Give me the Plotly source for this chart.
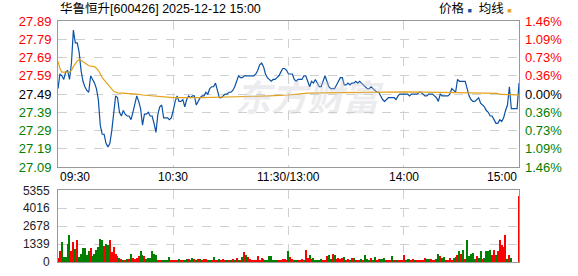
import plotly.graph_objects as go

# ---------------- data ----------------
stock_title = "华鲁恒升[600426] 2025-12-12 15:00"
pre_close = 27.49

# minute prices, 09:30 .. 11:30 (121 points)
price_am = [
    27.52, 27.60, 27.59, 27.57, 27.61, 27.62, 27.57, 27.66, 27.84, 27.77,
    27.77, 27.72, 27.62, 27.56, 27.53, 27.51, 27.50, 27.59, 27.57, 27.55,
    27.52, 27.46, 27.32, 27.27, 27.27, 27.22, 27.20, 27.22, 27.29, 27.38,
    27.48, 27.47, 27.39, 27.37, 27.40, 27.38, 27.37, 27.37, 27.35, 27.39,
    27.43, 27.48, 27.45, 27.41, 27.32, 27.38, 27.38, 27.39, 27.37, 27.37,
    27.33, 27.28, 27.38, 27.42, 27.43, 27.36, 27.36, 27.36, 27.35, 27.36,
    27.40, 27.45, 27.48, 27.45, 27.45, 27.46, 27.42, 27.46, 27.48, 27.47,
    27.48, 27.48, 27.43, 27.45, 27.47, 27.48, 27.48, 27.50, 27.49, 27.52,
    27.53, 27.53, 27.55, 27.51, 27.47, 27.47, 27.48, 27.49, 27.49, 27.50,
    27.50, 27.51, 27.53, 27.56, 27.59, 27.58, 27.58, 27.59, 27.59, 27.59,
    27.59, 27.59, 27.59, 27.60, 27.62, 27.65, 27.66, 27.64, 27.60, 27.58,
    27.57, 27.56, 27.57, 27.57, 27.58, 27.59, 27.61, 27.63, 27.63, 27.62,
    27.60,
]
# minute prices, 13:01 .. 15:00 (120 points)
price_pm = [
    27.60, 27.60, 27.57, 27.56, 27.57, 27.57, 27.57, 27.59, 27.59, 27.56,
    27.53, 27.56, 27.55, 27.57, 27.55, 27.53, 27.53, 27.56, 27.59, 27.56,
    27.53, 27.52, 27.52, 27.52, 27.54, 27.56, 27.58, 27.58, 27.54, 27.54,
    27.55, 27.54, 27.55, 27.55, 27.56, 27.55, 27.56, 27.55, 27.54, 27.53,
    27.52, 27.52, 27.53, 27.52, 27.51, 27.50, 27.50, 27.48, 27.46, 27.45,
    27.46, 27.47, 27.47, 27.47, 27.47, 27.46, 27.48, 27.49, 27.49, 27.49,
    27.49, 27.49, 27.48, 27.49, 27.49, 27.49, 27.49, 27.50, 27.50, 27.49,
    27.48, 27.48, 27.49, 27.49, 27.49, 27.48, 27.47, 27.45, 27.49, 27.48,
    27.48, 27.48, 27.48, 27.49, 27.52, 27.51, 27.50, 27.57, 27.56, 27.56,
    27.56, 27.56, 27.52, 27.48, 27.46, 27.45, 27.45, 27.46, 27.47, 27.44,
    27.43, 27.42, 27.40, 27.39, 27.37, 27.37, 27.35, 27.33, 27.33, 27.35,
    27.34, 27.36, 27.40, 27.43, 27.53, 27.41, 27.41, 27.41, 27.41, 27.55,
]

# average price line (minute index, value)
avg_minute = [0, 1, 2, 6, 7, 8, 10, 11, 12, 14, 16, 19, 21, 23, 25, 27, 29, 31,
              35, 41, 44, 49, 52, 60, 75, 95, 100, 110, 120, 130, 147, 181,
              200, 222, 229, 230, 240]
avg_price = [27.67, 27.63, 27.61, 27.61, 27.62, 27.64, 27.67, 27.68, 27.675,
             27.66, 27.645, 27.64, 27.62, 27.58, 27.555, 27.525, 27.505,
             27.497, 27.495, 27.49, 27.485, 27.48, 27.475, 27.47, 27.47,
             27.474, 27.477, 27.48, 27.485, 27.495, 27.498, 27.502, 27.499,
             27.497, 27.494, 27.488, 27.486]

# minute volumes (lots)
vol_am = [
    300, 760, 1450, 345, 345, 1310, 2000, 830, 1450, 970,
    1650, 345, 550, 1035, 1035, 480, 830, 1035, 415, 550,
    900, 1100, 1725, 1650, 1170, 1310, 1240, 1650, 690, 1100,
    550, 415, 275, 205, 70, 140, 205, 205, 550, 275,
    205, 275, 415, 760, 480, 415, 205, 275, 275, 760,
    550, 480, 140, 70, 70, 140, 70, 70, 345, 140,
    140, 70, 70, 205, 70, 140, 70, 205, 205, 140,
    275, 205, 140, 205, 205, 70, 205, 205, 70, 70,
    140, 345, 140, 140, 205, 70, 205, 140, 140, 70,
    70, 205, 70, 275, 70, 70, 345, 690, 480, 345,
    205, 140, 70, 140, 415, 140, 275, 205, 70, 140,
    415, 415, 140, 140, 140, 70, 140, 205, 205, 140,
    760,
]
vol_pm = [
    345, 205, 70, 70, 70, 70, 205, 70, 900, 275,
    480, 205, 275, 70, 70, 140, 205, 70, 70, 415,
    480, 205, 550, 480, 205, 275, 205, 275, 345, 140,
    205, 140, 275, 275, 140, 140, 70, 205, 70, 480,
    205, 140, 275, 140, 345, 70, 205, 205, 205, 275,
    70, 70, 70, 415, 140, 70, 140, 70, 70, 480,
    140, 205, 205, 140, 205, 70, 70, 70, 70, 70,
    275, 205, 205, 205, 70, 70, 205, 550, 415, 275,
    345, 70, 70, 275, 140, 275, 345, 480, 760, 550,
    900, 205, 1650, 415, 550, 620, 205, 415, 275, 760,
    205, 275, 830, 760, 900, 480, 900, 480, 830, 1590,
    1240, 1100, 2000, 205, 480, 275, 0, 0, 0, 4920,
]
# u = up (red), d = down (green)
dir_am = "".join(["uuddduduud", "uddddddudd", "ddddudduuu", "uududududu",
                  "uuuddudddd", "dduudddddu", "uuuduuddud", "dududuuudd",
                  "uduuduuudu", "dududududu", "uuuuuuuudd", "ddddduuuuu", "d"])
dir_pm = "".join(["uudduuuduu", "duddddduuu", "dduduuuudu", "ududududud",
                  "ddudduuddd", "uuududuuuu", "duduuduuuu", "udduuuddud",
                  "duuuuduudu", "dudddddudd", "udddduuduu", "udududuuuu"])

price_ticks = [27.09, 27.19, 27.29, 27.39, 27.49, 27.59, 27.69, 27.79, 27.89]
pct_labels = ["1.46%", "1.09%", "0.73%", "0.36%", "0.00%", "0.36%", "0.73%", "1.09%", "1.46%"]
vol_ticks = [0, 1339, 2678, 4016, 5355]
x_label_text = ["09:30", "10:30", "11:30/13:00", "14:00", "15:00"]
x_label_minute = [0, 60, 120, 180, 240]
grid_minutes = [60, 120, 180]

# ---------------- build ----------------
prices = price_am + price_pm
volumes = vol_am + vol_pm
dirs = dir_am + dir_pm
assert len(prices) == 241 and len(volumes) == 241 and len(dirs) == 241, (len(prices), len(volumes), len(dirs))
minutes = list(range(len(prices)))

RED = "#ff0000"
GREEN = "#008000"
BLUE = "#0b51a5"
GOLD = "#e3a21a"
FONT = "Liberation Sans, Arial, Noto Sans CJK SC, sans-serif"


def tick_color(v):
    if v > pre_close + 1e-9:
        return RED
    if v < pre_close - 1e-9:
        return GREEN
    return "#000000"


left_text = [f"<span style='color:{tick_color(v)}'>{v:.2f}</span>" for v in price_ticks]
right_text = [f"<span style='color:{tick_color(v)}'>{t}</span>" for v, t in zip(price_ticks, pct_labels)]
bar_colors = [RED if d == "u" else GREEN for d in dirs]

fig = go.Figure()
fig.add_trace(go.Scatter(x=minutes, y=prices, mode="lines", line=dict(color=BLUE, width=1.2),
                         xaxis="x", yaxis="y", hoverinfo="skip"))
fig.add_trace(go.Scatter(x=avg_minute, y=avg_price, mode="lines", line=dict(color=GOLD, width=1.2),
                         xaxis="x", yaxis="y", hoverinfo="skip"))
fig.add_trace(go.Scatter(x=minutes, y=prices, mode="lines", line=dict(width=0), opacity=0,
                         xaxis="x", yaxis="y3", hoverinfo="skip"))
fig.add_trace(go.Bar(x=minutes, y=volumes, marker=dict(color=bar_colors, line=dict(width=0)),
                     width=0.6, xaxis="x2", yaxis="y2", hoverinfo="skip"))

grid = dict(showgrid=True, gridcolor="#d0d0d0", griddash="dash", gridwidth=1)
border = dict(showline=True, mirror=True, linecolor="#999999", linewidth=1, zeroline=False, ticks="")

fig.update_layout(
    width=578, height=276, autosize=False,
    margin=dict(l=58, r=59, t=21, b=6),
    paper_bgcolor="white", plot_bgcolor="white",
    showlegend=False, hovermode=False, bargap=0,
    font=dict(family=FONT, color="#000000"),
    xaxis=dict(domain=[0, 1], range=[0, 240], anchor="y", tickvals=grid_minutes,
               showticklabels=False, **grid, **border),
    yaxis=dict(domain=[0.3936, 1], range=[27.09, 27.89], anchor="x", tickvals=price_ticks,
               ticktext=left_text, tickfont=dict(size=13, family=FONT), ticklabelstandoff=3,
               **grid, **border),
    yaxis3=dict(overlaying="y", side="right", anchor="x", range=[27.09, 27.89],
                tickvals=price_ticks, ticktext=right_text, tickfont=dict(size=13, family=FONT),
                ticklabelstandoff=5, showgrid=False, showline=False, zeroline=False, ticks=""),
    xaxis2=dict(domain=[0, 1], range=[0, 240], anchor="y2", tickvals=grid_minutes,
                showticklabels=False, **grid, **border),
    yaxis2=dict(domain=[0, 0.2972], range=[0, 5355], anchor="x2", tickvals=vol_ticks,
                ticktext=[str(v) for v in vol_ticks], tickfont=dict(size=12, family=FONT, color="#222222"),
                ticklabelstandoff=5, **grid, **border),
)

annotations = []
for t, m in zip(x_label_text, x_label_minute):
    anchor = "left" if m == x_label_minute[0] else ("right" if m == x_label_minute[-1] else "center")
    annotations.append(dict(text=t, x=m, xref="x", y=0.3534, yref="paper", xanchor=anchor,
                            yanchor="middle", showarrow=False, font=dict(size=12, family=FONT, color="#000")))
annotations.append(dict(text=stock_title, x=0, xref="paper", y=1.052, yref="paper", xanchor="left",
                        yanchor="middle", showarrow=False, font=dict(size=12.5, family=FONT, color="#000")))
annotations.append(dict(
    text=f"价格 <span style='color:{BLUE};font-size:7px'>■</span>  均线 <span style='color:{GOLD};font-size:7px'>■</span>",
    x=0.988, xref="paper", y=1.052, yref="paper", xanchor="right", yanchor="middle",
    showarrow=False, font=dict(size=12.5, family=FONT, color="#000")))
annotations.append(dict(text="<b><i>东方财富</i></b>", x=0.545, xref="paper", y=0.695, yref="paper",
                        xanchor="center", yanchor="middle", showarrow=False,
                        font=dict(size=36, family="Noto Sans CJK SC", color="rgba(200,200,210,0.35)")))
fig.update_layout(annotations=annotations)

fig.write_html("out.html")
